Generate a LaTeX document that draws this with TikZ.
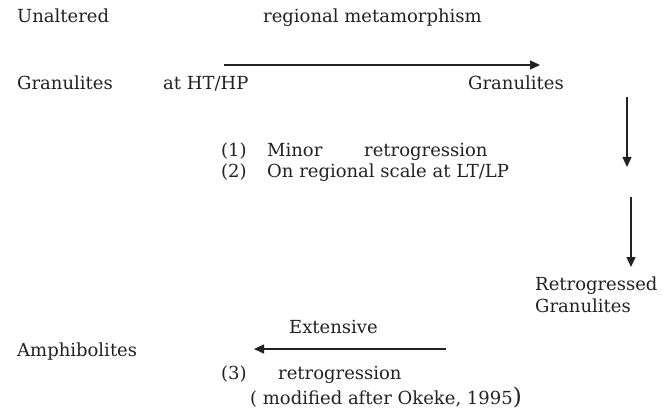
\documentclass[tikz,border=0pt]{standalone}
\usepackage{fontspec}
\setmainfont{DejaVu Serif}
\usetikzlibrary{arrows.meta}
\definecolor{ink}{HTML}{222222}
\begin{document}
\begin{tikzpicture}[x=1pt,y=-1pt,
  lbl/.style={anchor=base west,inner sep=0pt,text=ink,font=\fontsize{18}{22}\selectfont},
  arr/.style={draw=ink,line width=1.3pt,-{Triangle[length=10pt,width=9pt]}}]
\useasboundingbox (0,0) rectangle (671,414);
\node[lbl] (una) at (17,23) {Unaltered};
\node[lbl] (reg) at (263,23) {regional metamorphism};
\node[lbl] (gran1) at (17,90) {Granulites};
\node[lbl] (hthp) at (163,90) {at HT/HP};
\node[lbl] (gran2) at (468,90) {Granulites};
\node[lbl] (n1) at (221,157) {(1)};
\node[lbl] (minor) at (267,157) {Minor};
\node[lbl] (retro1) at (364,157) {retrogression};
\node[lbl] (n2) at (221,177) {(2)};
\node[lbl] (onreg) at (267,177) {On regional scale at LT/LP};
\node[lbl] (retg) at (535,290) {Retrogressed};
\node[lbl] (gran3) at (535,312) {Granulites};
\node[lbl] (ext) at (289,333) {Extensive};
\node[lbl] (amph) at (17,356) {Amphibolites};
\node[lbl] (n3) at (221,379) {(3)};
\node[lbl] (retro3) at (278,379) {retrogression};
\node[lbl] (mod) at (250,404) {( modified after Okeke, 1995{\fontsize{23}{23}\selectfont)}};
\coordinate (a1s) at (224,65);
\coordinate (a1e) at (540,65);
\coordinate (a2s) at (627,97);
\coordinate (a2e) at (627,167);
\coordinate (a3s) at (631,197);
\coordinate (a3e) at (631,267);
\coordinate (a4s) at (446,349);
\coordinate (a4e) at (254,349);
\draw[arr] (a1s) -- (a1e);
\draw[arr] (a2s) -- (a2e);
\draw[arr] (a3s) -- (a3e);
\draw[arr] (a4s) -- (a4e);
\end{tikzpicture}
\end{document}
